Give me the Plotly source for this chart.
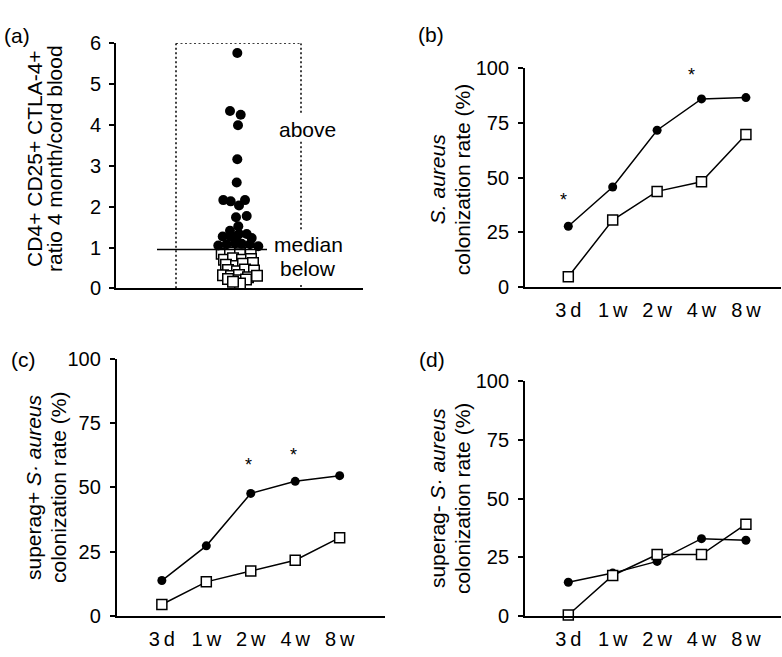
import plotly.graph_objects as go

W, H = 782, 657
FONT = "Liberation Sans, Arial, Helvetica, sans-serif"
FS = 20
FS_T = 21

# ---------------- Panel (a) data ----------------
above_jitter = [0.003, -0.07, 0.037, 0.01, 0.003, -0.003, -0.137, -0.063, 0.08, 0.02,
                -0.01, 0.097, 0.013, -0.07, 0.02, 0.097, -0.143, -0.063, 0.147, -0.003,
                -0.187, -0.103, -0.02, 0.047, 0.13, 0.213]
above_ratio = [5.76, 4.34, 4.25, 3.99, 3.16, 2.59, 2.16, 2.13, 2.16, 2.03,
               1.74, 1.77, 1.52, 1.41, 1.33, 1.33, 1.27, 1.27, 1.23, 1.27,
               1.05, 1.08, 1.10, 1.09, 1.08, 1.03]
below_jitter = [-0.153, -0.07, 0.03, 0.137, -0.13, -0.04, 0.05, 0.14, -0.11, -0.01,
                0.06, 0.16, -0.09, 0.0, 0.08, 0.17, -0.14, -0.06, 0.02, 0.11,
                0.2, 0.01, 0.09, -0.09, 0.03, -0.04]
below_ratio = [0.85, 0.87, 0.86, 0.88, 0.70, 0.74, 0.70, 0.72, 0.58, 0.55,
               0.60, 0.62, 0.45, 0.42, 0.46, 0.44, 0.32, 0.30, 0.33, 0.27,
               0.31, 0.20, 0.22, 0.23, 0.12, 0.16]
median_ratio = 0.95
a_ticks = [0, 1, 2, 3, 4, 5, 6]

# ---------------- Panels (b)-(d) data ----------------
timepoints = ["3\u2009d", "1\u2009w", "2\u2009w", "4\u2009w", "8\u2009w"]
b_above = [27.8, 45.7, 71.6, 85.9, 86.5]
b_below = [4.7, 30.6, 43.7, 48.1, 69.7]
c_above = [13.8, 27.3, 47.7, 52.4, 54.6]
c_below = [4.5, 13.3, 17.5, 21.7, 30.5]
d_above = [14.3, 18.2, 23.2, 32.9, 32.2]
d_below = [0.3, 17.2, 26.1, 26.1, 39.1]
rate_ticks = [0, 25, 50, 75, 100]
# significance markers: (timepoint index, y level)
b_sig = [(0, 41.8), (3, 98.5)]
c_sig = [(2, 60.2), (3, 64.3)]

fig = go.Figure()

circle = dict(symbol="circle", size=9, color="black", line=dict(color="black", width=0))
square = dict(symbol="square", size=10, color="white", line=dict(color="black", width=1.5))
circle_a = dict(circle, size=10)
square_a = dict(square, size=10.5)

# panel (a)
fig.add_trace(go.Scatter(x=below_jitter, y=below_ratio, mode="markers", marker=square_a,
                         xaxis="x", yaxis="y", cliponaxis=False, showlegend=False))
fig.add_trace(go.Scatter(x=above_jitter, y=above_ratio, mode="markers", marker=circle_a,
                         xaxis="x", yaxis="y", cliponaxis=False, showlegend=False))

idx = list(range(len(timepoints)))
for ax, ya, yb in [("2", b_above, b_below), ("3", c_above, c_below), ("4", d_above, d_below)]:
    fig.add_trace(go.Scatter(x=idx, y=ya, mode="lines+markers", marker=circle,
                             line=dict(color="black", width=1.5),
                             xaxis="x" + ax, yaxis="y" + ax, cliponaxis=False, showlegend=False))
    fig.add_trace(go.Scatter(x=idx, y=yb, mode="lines+markers", marker=square,
                             line=dict(color="black", width=1.5),
                             xaxis="x" + ax, yaxis="y" + ax, cliponaxis=False, showlegend=False))


def px_x(p):
    return p / W


def px_y(p):
    return 1 - p / H


tickfont = dict(family=FONT, size=FS, color="black")
axis_common = dict(showline=True, linecolor="black", linewidth=1.8, showgrid=False,
                   zeroline=False, tickfont=tickfont, fixedrange=True)

layout = dict(
    width=W, height=H, margin=dict(l=0, r=0, t=0, b=0),
    paper_bgcolor="white", plot_bgcolor="white",
    font=dict(family=FONT, size=FS, color="black"),
    showlegend=False,
)

# (a)
layout["xaxis"] = dict(axis_common, domain=[px_x(116), px_x(363)], range=[-1.21, 1.26],
                       showticklabels=False, ticks="", anchor="y")
layout["yaxis"] = dict(axis_common, domain=[px_y(287), px_y(33.3)], range=[0, 6],
                       tickvals=a_ticks, ticks="outside", ticklen=5, tickwidth=1.5,
                       tickcolor="black", ticklabelstandoff=4, anchor="x")
# (b)
layout["xaxis2"] = dict(axis_common, domain=[px_x(525), px_x(781)], range=[-0.975, 4.79],
                        tickvals=idx, ticktext=timepoints, ticks="", ticklabelstandoff=4,
                        anchor="y2")
layout["yaxis2"] = dict(axis_common, domain=[px_y(285.7), px_y(59)], range=[0, 100],
                        tickvals=rate_ticks, ticks="outside", ticklen=5, tickwidth=1.5,
                        tickcolor="black", ticklabelstandoff=5, anchor="x2")
# (c)
layout["xaxis3"] = dict(axis_common, domain=[px_x(116.7), px_x(385)], range=[-1.016, 5.02],
                        tickvals=idx, ticktext=timepoints, ticks="", ticklabelstandoff=4,
                        anchor="y3")
layout["yaxis3"] = dict(axis_common, domain=[px_y(626), px_y(360)], range=[0, 100],
                        tickvals=rate_ticks, ticks="outside", ticklen=5, tickwidth=1.5,
                        tickcolor="black", ticklabelstandoff=5, anchor="x3")
# (d)
layout["xaxis4"] = dict(axis_common, domain=[px_x(525), px_x(781)], range=[-0.975, 4.79],
                        tickvals=idx, ticktext=timepoints, ticks="", ticklabelstandoff=4,
                        anchor="y4")
layout["yaxis4"] = dict(axis_common, domain=[px_y(625.7), px_y(383.3)], range=[0, 100],
                        tickvals=rate_ticks, ticks="outside", ticklen=5, tickwidth=1.5,
                        tickcolor="black", ticklabelstandoff=5, anchor="x4")

fig.update_layout(**layout)

# ---------------- shapes in panel (a) ----------------
dot = dict(color="black", width=1.5, dash="2px,2.5px")
box_left, box_right = -0.61, 0.64
shapes = [
    dict(type="line", xref="x", yref="y", x0=box_left, x1=box_right, y0=6, y1=6, line=dot),
    dict(type="line", xref="x", yref="y", x0=box_left, x1=box_left, y0=6, y1=0, line=dot),
    dict(type="line", xref="x", yref="y", x0=box_right, x1=box_right, y0=6, y1=4.30, line=dot),
    dict(type="line", xref="x", yref="y", x0=box_right, x1=box_right, y0=3.59, y1=1.43, line=dot),
    dict(type="line", xref="x", yref="y", x0=box_right, x1=box_right, y0=0.08, y1=0, line=dot),
    dict(type="line", xref="x", yref="y", x0=-0.80, x1=0.30, y0=median_ratio, y1=median_ratio,
         line=dict(color="black", width=1.5)),
]
fig.update_layout(shapes=shapes)

ann = []
txtfont = dict(family=FONT, size=FS_T, color="black")
# group labels in (a)
ann.append(dict(text="above", xref="x", yref="y", x=0.70, y=3.90, showarrow=False,
                font=txtfont, xanchor="center", yanchor="middle"))
ann.append(dict(text="median", xref="x", yref="y", x=0.71, y=1.07, showarrow=False,
                font=txtfont, xanchor="center", yanchor="middle"))
ann.append(dict(text="below", xref="x", yref="y", x=0.71, y=0.48, showarrow=False,
                font=txtfont, xanchor="center", yanchor="middle"))

# panel letters
for t, xp, yp in [("(a)", 17, 25), ("(b)", 431, 24), ("(c)", 23, 361), ("(d)", 432, 361)]:
    ann.append(dict(text=t, xref="paper", yref="paper", x=px_x(xp), y=px_y(yp),
                    showarrow=False, font=txtfont, xanchor="center", yanchor="middle"))

# y titles (one annotation per line)
titles = [
    ("CD4+ CD25+ CTLA-4+", 35, 153),
    ("ratio 4 month/cord blood", 55, 153),
    ("<i>S. aureus</i>", 437, 174),
    ("colonization rate (%)", 462, 174),
    ("superag+ <i>S\u00b7 aureus</i>", 33.5, 493),
    ("colonization rate (%)", 58.5, 493),
    ("superag- <i>S\u00b7 aureus</i>", 437, 504),
    ("colonization rate (%)", 462, 504),
]
for t, xp, yp in titles:
    ann.append(dict(text=t, xref="paper", yref="paper", x=px_x(xp), y=px_y(yp),
                    showarrow=False, font=txtfont, textangle=-90,
                    xanchor="center", yanchor="middle"))

# significance asterisks
for ax, sig, shifts in [("2", b_sig, [-5, -10]), ("3", c_sig, [-2, -2])]:
    for (i, yv), sh in zip(sig, shifts):
        ann.append(dict(text="*", xref="x" + ax, yref="y" + ax, x=i, y=yv, showarrow=False,
                        font=dict(family=FONT, size=18, color="black"),
                        xanchor="center", yanchor="middle", xshift=sh, yshift=-4))

fig.update_layout(annotations=ann)

fig.write_html("out.html", config={"displayModeBar": False},
               post_script="document.body.style.margin='0';document.body.style.overflow='hidden';")
